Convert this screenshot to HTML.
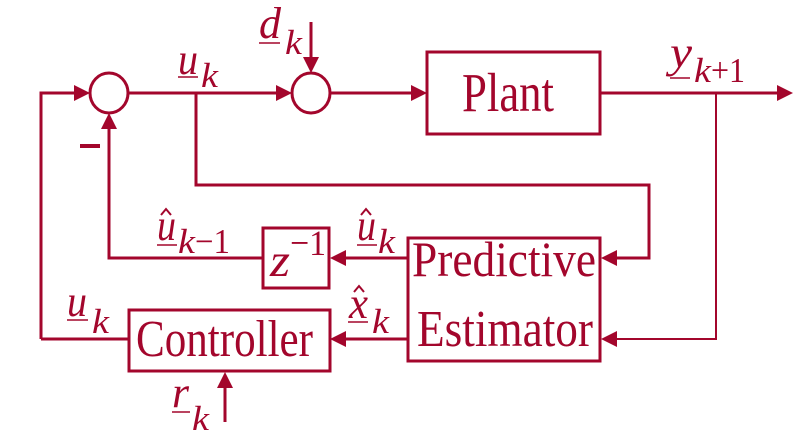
<!DOCTYPE html>
<html><head><meta charset="utf-8"><style>
html,body{margin:0;padding:0;background:#fff;}
svg{display:block;}
text{font-family:"Liberation Serif","Times New Roman",serif;fill:#a3062c;}
.i{font-style:italic;}
</style></head><body>
<svg width="800" height="442" viewBox="0 0 800 442" xmlns="http://www.w3.org/2000/svg">
<g stroke="#a3062c" fill="none" stroke-width="3">
<ellipse cx="109" cy="93" rx="19" ry="20"/>
<ellipse cx="311" cy="93" rx="19" ry="20"/>
<rect x="427" y="52" width="173" height="82"/>
<rect x="263" y="228" width="66" height="60"/>
<rect x="129" y="310" width="201" height="61"/>
<rect x="408" y="238" width="192" height="123"/>
<polyline points="41,339 41,93 80,93"/>
<line x1="128" y1="93" x2="282" y2="93"/>
<line x1="330" y1="93" x2="418" y2="93"/>
<line x1="600" y1="93" x2="780" y2="93"/>
<polyline points="196,93 196,185 649,185 649,258 612,258"/>
<line x1="311" y1="22" x2="311" y2="64"/>
<polyline points="263,258 109,258 109,124"/>
<line x1="408" y1="258" x2="340" y2="258"/>
<line x1="408" y1="339" x2="340" y2="339"/>
<polyline points="129,339 41,339"/>
<line x1="225" y1="422" x2="225" y2="382"/>
<polyline points="716,93 716,339 612,339" stroke-width="2"/>
</g>
<g fill="#a3062c">
<polygon points="90,93 74,85 74,101"/>
<polygon points="292,93 276,85 276,101"/>
<polygon points="427,93 411,85 411,101"/>
<polygon points="793,93 777,85 777,101"/>
<polygon points="311,73 303,57 319,57"/>
<polygon points="109,113 101,129 117,129"/>
<polygon points="330,258 346,250 346,266"/>
<polygon points="601,258 617,250 617,266"/>
<polygon points="330,339 346,331 346,347"/>
<polygon points="601,339 617,331 617,347"/>
<polygon points="225,372 217,388 233,388"/>
<rect x="80" y="144" width="20" height="4"/>
</g>
<g transform="translate(462,111) scale(1,1.3)"><text font-size="42" textLength="92" lengthAdjust="spacingAndGlyphs">Plant</text></g>
<g transform="translate(136,356) scale(1,1.3)"><text font-size="40" textLength="177" lengthAdjust="spacingAndGlyphs">Controller</text></g>
<g transform="translate(412,276) scale(1,1.3)"><text font-size="38" textLength="184" lengthAdjust="spacingAndGlyphs">Predictive</text></g>
<g transform="translate(417,346) scale(1,1.3)"><text font-size="40" textLength="176" lengthAdjust="spacingAndGlyphs">Estimator</text></g>
<g transform="translate(270,276) scale(1,1.3)"><text font-size="36" class="i" textLength="20" lengthAdjust="spacingAndGlyphs">z</text></g>
<g transform="translate(290,255) scale(1,1.3)"><text font-size="28" textLength="36" lengthAdjust="spacingAndGlyphs">−1</text></g>
<g stroke="#a3062c" stroke-width="1.5">
<line x1="178" y1="77" x2="198" y2="77"/>
<line x1="259" y1="43" x2="280" y2="43"/>
<line x1="670" y1="78" x2="690" y2="78"/>
<line x1="157" y1="245" x2="177" y2="245"/>
<line x1="357" y1="245" x2="377" y2="245"/>
<line x1="348" y1="322" x2="368" y2="322"/>
<line x1="67" y1="320" x2="88" y2="320"/>
<line x1="172" y1="412" x2="190" y2="412"/>
</g>
<g font-size="34" class="i">
<g transform="translate(178,74) scale(1,1.3)"><text textLength="20" lengthAdjust="spacingAndGlyphs">u</text></g>
<g transform="translate(259,38) scale(1,1.3)"><text textLength="22" lengthAdjust="spacingAndGlyphs">d</text></g>
<g transform="translate(670,67) scale(1,1.3)"><text textLength="22" lengthAdjust="spacingAndGlyphs">y</text></g>
<g transform="translate(157,240) scale(1,1.3)"><text textLength="19" lengthAdjust="spacingAndGlyphs">u</text></g>
<g transform="translate(357,240) scale(1,1.3)"><text textLength="19" lengthAdjust="spacingAndGlyphs">u</text></g>
<g transform="translate(349,318) scale(1,1.3)"><text textLength="19" lengthAdjust="spacingAndGlyphs">x</text></g>
<g transform="translate(67,316) scale(1,1.3)"><text textLength="20" lengthAdjust="spacingAndGlyphs">u</text></g>
<g transform="translate(172,407) scale(1,1.3)"><text textLength="17" lengthAdjust="spacingAndGlyphs">r</text></g>
</g>
<g font-size="27" class="i">
<g transform="translate(201,87) scale(1,1.3)"><text textLength="17" lengthAdjust="spacingAndGlyphs">k</text></g>
<g transform="translate(285,54) scale(1,1.3)"><text textLength="17" lengthAdjust="spacingAndGlyphs">k</text></g>
<g transform="translate(694,82) scale(1,1.3)"><text textLength="17" lengthAdjust="spacingAndGlyphs">k</text></g>
<g transform="translate(178,253) scale(1,1.3)"><text textLength="17" lengthAdjust="spacingAndGlyphs">k</text></g>
<g transform="translate(378,253) scale(1,1.3)"><text textLength="17" lengthAdjust="spacingAndGlyphs">k</text></g>
<g transform="translate(372,333) scale(1,1.3)"><text textLength="17" lengthAdjust="spacingAndGlyphs">k</text></g>
<g transform="translate(92,333) scale(1,1.3)"><text textLength="17" lengthAdjust="spacingAndGlyphs">k</text></g>
<g transform="translate(192,430) scale(1,1.3)"><text textLength="17" lengthAdjust="spacingAndGlyphs">k</text></g>
</g>
<g font-size="27">
<g transform="translate(711,82) scale(1,1.3)"><text textLength="34" lengthAdjust="spacingAndGlyphs">+1</text></g>
<g transform="translate(195,253) scale(1,1.3)"><text textLength="35" lengthAdjust="spacingAndGlyphs">−1</text></g>
</g>
<g stroke="#a3062c" stroke-width="2" fill="none">
<polyline points="161,215 166,209 171,215"/>
<polyline points="361,215 366,209 371,215"/>
<polyline points="354,292 359,286 364,292"/>
</g>
</svg>
</body></html>
